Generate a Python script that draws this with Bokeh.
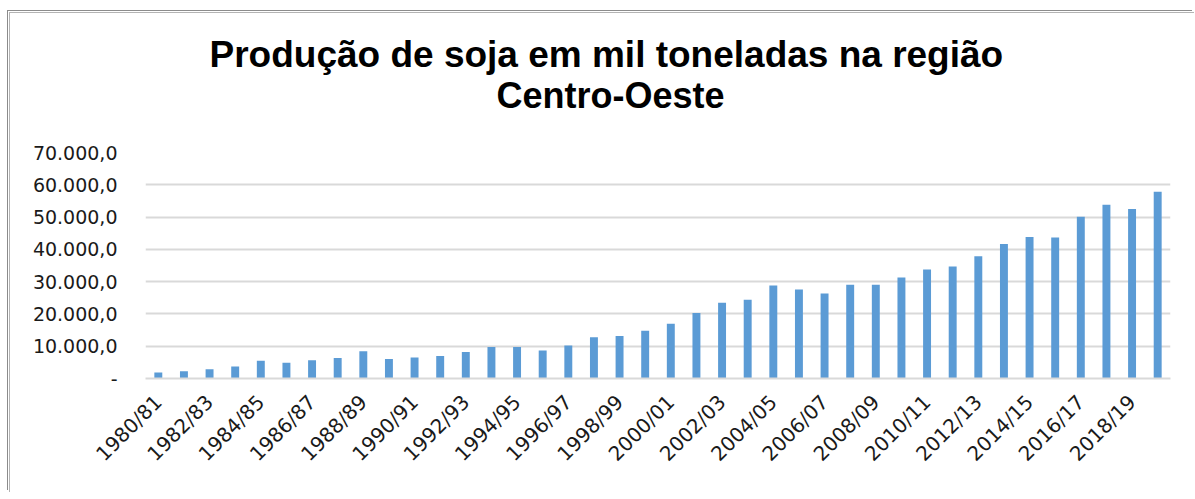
import math
from bokeh.plotting import figure
from bokeh.models import FixedTicker, Title, Range1d, ColumnDataSource
from bokeh.embed import file_html
from bokeh.resources import INLINE

seasons = ["1980/81", "1981/82", "1982/83", "1983/84", "1984/85", "1985/86", "1986/87", "1987/88",
           "1988/89", "1989/90", "1990/91", "1991/92", "1992/93", "1993/94", "1994/95", "1995/96",
           "1996/97", "1997/98", "1998/99", "1999/00", "2000/01", "2001/02", "2002/03", "2003/04",
           "2004/05", "2005/06", "2006/07", "2007/08", "2008/09", "2009/10", "2010/11", "2011/12",
           "2012/13", "2013/14", "2014/15", "2015/16", "2016/17", "2017/18", "2018/19", "2019/20"]
production = [1850, 2270, 2880, 3700, 5460, 4840, 5660, 6380, 8440, 6070,
              6490, 7000, 8240, 9780, 9780, 8650, 10190, 12770, 13180, 14820,
              16990, 20280, 23470, 24400, 28820, 27590, 26350, 29030, 29030, 31290,
              33770, 34690, 37880, 41690, 43850, 43650, 50130, 53840, 52500, 57850]
y_ticks = [0, 10000, 20000, 30000, 40000, 50000, 60000, 70000]
y_tick_labels = ["-", "10.000,0", "20.000,0", "30.000,0", "40.000,0", "50.000,0", "60.000,0", "70.000,0"]
title_line1 = "Produção de soja em mil toneladas na região"
title_line2 = "Centro-Oeste"

idx = list(range(len(seasons)))
src = ColumnDataSource(dict(x=idx, top=production))

p = figure(width=1185, height=480, output_backend="svg", toolbar_location=None,
           x_range=Range1d(-0.5, len(seasons) - 0.5), y_range=Range1d(0, 70000),
           min_border_left=135, min_border_right=25, min_border_bottom=115, min_border_top=139,
           styles={"margin-left": "10px", "margin-top": "13px",
                   "box-shadow": "-1px -1px 0 0 #b4b4b4, -2px -2px 0 0 #ffffff, -3px -3px 0 0 #8c8c8c"})
p.outline_line_color = None
p.background_fill_color = "white"
p.border_fill_color = "white"

p.vbar(x="x", top="top", width=0.31, source=src, fill_color="#5B9BD5", line_color=None)

t0 = Title(text=" ", align="left", text_font="Liberation Sans", text_font_size="10px", standoff=24)
t2 = Title(text=title_line2, align="left", offset=351, text_font="Liberation Sans", text_font_size="36px",
           text_font_style="bold", text_color="black", standoff=0)
t1 = Title(text=title_line1, align="left", offset=64, text_font="Liberation Sans", text_font_size="37px",
           text_font_style="bold", text_color="black", standoff=-5)
p.add_layout(t0, "above")
p.add_layout(t2, "above")
p.add_layout(t1, "above")

p.yaxis.ticker = FixedTicker(ticks=y_ticks)
p.yaxis.major_label_overrides = {t: l for t, l in zip(y_ticks, y_tick_labels)}
p.yaxis.axis_line_color = None
p.yaxis.major_tick_line_color = None
p.yaxis.major_tick_out = 0
p.yaxis.minor_tick_line_color = None
p.yaxis.major_label_standoff = 28
p.yaxis.major_label_text_font = "DejaVu Sans"
p.yaxis.major_label_text_font_size = "19px"
p.yaxis.major_label_text_color = "#1a1a1a"

p.xaxis.ticker = FixedTicker(ticks=idx[::2])
p.xaxis.major_label_overrides = {i: seasons[i] for i in idx[::2]}
p.xaxis.axis_line_color = "#d9d9d9"
p.xaxis.axis_line_width = 2
p.xaxis.major_tick_line_color = None
p.xaxis.major_tick_out = 0
p.xaxis.minor_tick_line_color = None
p.xaxis.major_label_orientation = math.pi / 4
p.xaxis.major_label_standoff = 20
p.xaxis.major_label_text_font = "DejaVu Sans"
p.xaxis.major_label_text_font_size = "20px"
p.xaxis.major_label_text_color = "#1a1a1a"

p.xgrid.visible = False
p.ygrid.grid_line_color = "#d9d9d9"
p.ygrid.grid_line_width = 2

open("out.html", "w").write(file_html(p, INLINE))
